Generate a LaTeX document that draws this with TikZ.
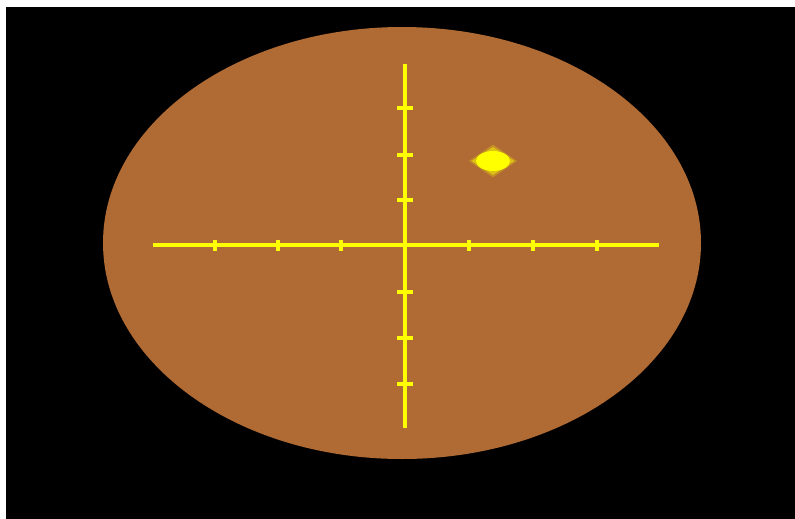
\documentclass[tikz,border=0pt]{standalone}
\usetikzlibrary{shapes.geometric}
\definecolor{plate}{RGB}{176,106,51}
\definecolor{ylw}{RGB}{255,255,0}
\tikzset{axis/.style={draw=ylw,line width=3.4pt},
  tick/.style={draw=ylw,line width=3.6pt}}
\begin{document}
\begin{tikzpicture}[x=1pt,y=-1pt]
\useasboundingbox (0,0) rectangle (795,519);
\fill[white] (0,0) rectangle (795,519);
\fill[black] (6,7) rectangle (795,519);
\fill[plate] (402,243) ellipse [x radius=299, y radius=216];
\draw[axis] (405,64) -- (405,428);
\draw[axis] (153,245) -- (659,245);
\foreach \x in {215,278,341,469,533,597}
  \draw[tick] (\x,239.5) -- (\x,250.5);
\foreach \y in {108,155,200,292,338,384}
  \draw[tick] (397,\y) -- (413,\y);
% glowing spot
\node[diamond,fill=ylw,fill opacity=0.25,minimum width=48pt,minimum height=33pt,inner sep=0] (spotglow) at (493,161) {};
\node[diamond,fill=ylw,fill opacity=0.45,minimum width=43pt,minimum height=28pt,inner sep=0] (spotmid) at (493,161) {};
\fill[ylw] (493,161) ellipse [x radius=17, y radius=10];
\end{tikzpicture}
\end{document}
